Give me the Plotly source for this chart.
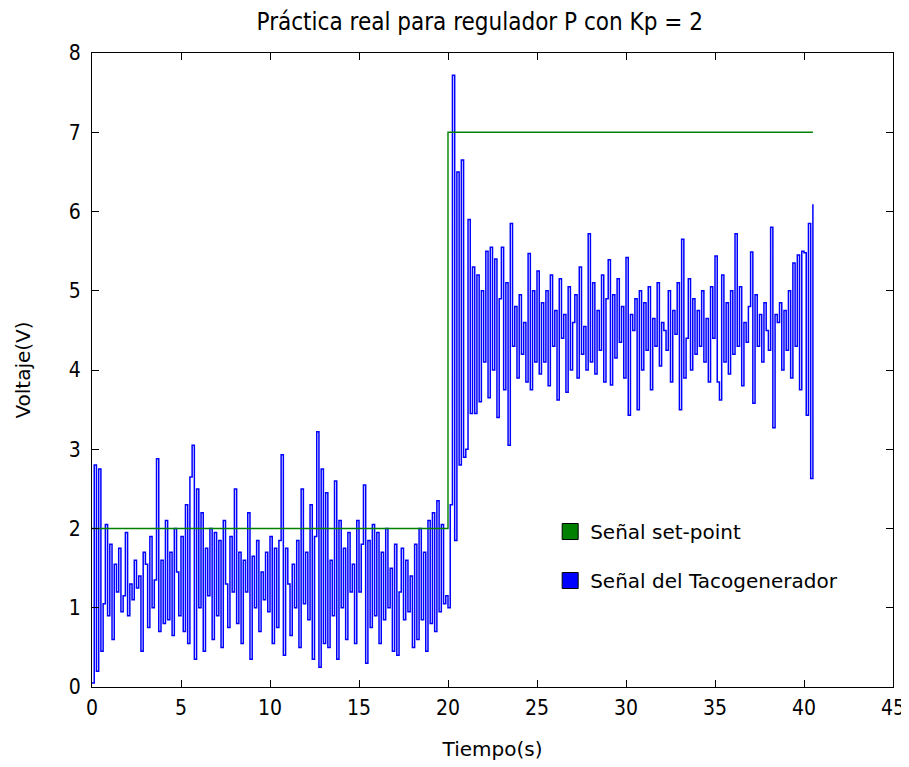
import numpy as np
import plotly.graph_objects as go

TITLE = "Práctica real para regulador P con Kp = 2"
X_LABEL = "Tiempo(s)"
Y_LABEL = "Voltaje(V)"
SETPOINT_NAME = "Señal set-point"
TACHO_NAME = "Señal del Tacogenerador"

# set-point signal (step at t = 20 s)
setpoint_t = [0, 20, 20, 40.5]
setpoint_v = [2, 2, 7, 7]

# tachogenerator signal, sampled every 0.125 s (one row per second)
SAMPLE_PERIOD = 0.125
tacho_v = [
    0.05, 2.8, 0.2, 2.75, 0.45, 1.05, 2.05, 0.9,
    1.8, 0.6, 1.55, 1.2, 1.75, 0.95, 1.15, 1.95,
    0.9, 1.3, 1.1, 1.6, 1.25, 1.4, 0.45, 1.7,
    1.55, 0.75, 1.9, 1.0, 1.35, 2.88, 0.7, 1.6,
    0.8, 2.1, 0.85, 1.7, 0.65, 2.0, 1.45, 0.9,
    1.9, 0.7, 2.3, 0.55, 2.65, 3.05, 0.35, 2.5,
    1.0, 2.2, 0.45, 1.75, 1.15, 2.0, 0.6, 1.95,
    0.9, 1.85, 0.5, 2.1, 1.3, 0.75, 1.9, 1.2,
    2.5, 0.8, 1.7, 0.55, 1.6, 1.2, 2.2, 0.35,
    1.65, 1.0, 1.85, 0.7, 1.45, 1.1, 1.7, 0.95,
    1.9, 0.55, 1.75, 0.75, 1.85, 2.93, 0.4, 1.75,
    1.3, 0.65, 1.55, 1.0, 1.85, 0.5, 2.5, 1.05,
    1.7, 0.85, 2.3, 0.35, 1.9, 3.22, 0.25, 2.75,
    0.55, 2.45, 0.5, 1.6, 0.9, 2.6, 0.35, 2.1,
    1.0, 1.75, 0.6, 1.95, 1.2, 1.55, 0.55, 2.1,
    1.2, 1.8, 2.55, 0.3, 1.85, 0.75, 2.05, 0.9,
    1.95, 0.55, 1.7, 0.85, 2.0, 1.0, 1.5, 0.45,
    1.8, 0.4, 1.2, 1.75, 0.85, 1.6, 0.95, 1.4,
    0.5, 1.8, 0.6, 2.0, 0.85, 1.7, 0.45, 2.1,
    0.8, 2.2, 0.7, 2.35, 0.95, 2.05, 1.05, 1.15,
    1.0, 2.3, 7.72, 1.85, 6.5, 2.8, 6.65, 2.9,
    3.0, 5.9, 3.45, 5.3, 3.45, 5.2, 3.6, 5.0,
    4.1, 5.5, 3.65, 5.55, 4.0, 5.4, 3.4, 4.9,
    5.55, 3.75, 5.1, 3.05, 5.85, 4.3, 4.8, 3.9,
    4.95, 4.2, 4.6, 3.85, 5.47, 3.75, 5.0, 4.1,
    5.25, 3.95, 4.85, 4.1, 5.0, 3.8, 5.2, 4.3,
    4.75, 3.62, 5.15, 4.4, 4.7, 3.72, 5.05, 4.0,
    4.6, 4.95, 3.9, 5.3, 4.2, 4.55, 4.0, 5.72,
    4.1, 5.1, 3.95, 4.75, 4.25, 5.2, 3.85, 4.9,
    5.39, 3.81, 4.95, 4.15, 5.15, 4.35, 4.8, 3.9,
    5.42, 3.43, 4.7, 4.5, 4.9, 3.5, 5.0, 4.0,
    4.85, 4.25, 5.05, 3.75, 4.65, 4.3, 5.1, 4.05,
    4.6, 4.5, 4.25, 5.0, 3.85, 4.75, 4.45, 5.1,
    3.5, 5.65, 3.9, 4.4, 5.15, 4.0, 4.9, 4.2,
    4.75, 4.3, 5.0, 4.1, 4.65, 3.85, 5.05, 4.4,
    5.44, 3.85, 3.62, 5.2, 4.1, 4.85, 3.95, 5.0,
    4.2, 5.72, 4.3, 5.05, 3.8, 4.6, 4.35, 4.8,
    5.49, 3.58, 4.95, 4.3, 4.7, 4.1, 4.85, 4.5,
    4.25, 5.8, 3.27, 4.7, 4.6, 4.85, 4.0, 4.75,
    4.25, 5.0, 3.9, 5.35, 4.3, 5.45, 3.75, 5.5,
    5.48, 3.43, 5.85, 2.63, 6.09,
]
tacho_t = np.arange(len(tacho_v)) * SAMPLE_PERIOD

x_ticks = [0, 5, 10, 15, 20, 25, 30, 35, 40, 45]
y_ticks = [0, 1, 2, 3, 4, 5, 6, 7, 8]

GREEN = "#008000"
BLUE = "#0000ff"
NARROW = "Liberation Sans Narrow, DejaVu Sans Condensed, Liberation Sans"
LABEL_FONT = "DejaVu Sans"

fig = go.Figure()
fig.add_trace(go.Scatter(x=tacho_t, y=tacho_v, mode="lines", line=dict(color=BLUE, width=1.5, shape="hv"),
                         showlegend=False))
fig.add_trace(go.Scatter(x=setpoint_t, y=setpoint_v, mode="lines", line=dict(color=GREEN, width=1.4),
                         showlegend=False))
# legend entries as colour patches
fig.add_trace(go.Scatter(x=[None], y=[None], mode="markers", name=SETPOINT_NAME, legendgroup="a",
                         marker=dict(symbol="square", size=22, color=GREEN, line=dict(color="black", width=1))))
fig.add_trace(go.Scatter(x=[None], y=[None], mode="markers", name=TACHO_NAME, legendgroup="b",
                         marker=dict(symbol="square", size=22, color=BLUE, line=dict(color="black", width=1))))

axis_common = dict(showline=True, linecolor="black", linewidth=1, mirror="ticks", ticks="inside",
                   ticklen=7, tickcolor="black", showgrid=False, zeroline=False,
                   tickfont=dict(family=NARROW, size=21, color="black"))
fig.update_xaxes(range=[0, 45], tickvals=x_ticks, ticklabelstandoff=2,
                 title=dict(text=X_LABEL, font=dict(family=LABEL_FONT, size=20, color="black"), standoff=22),
                 **axis_common)
fig.update_yaxes(range=[0, 8], tickvals=y_ticks, ticklabelstandoff=6,
                 title=dict(text=Y_LABEL, font=dict(family=LABEL_FONT, size=20, color="black"), standoff=32),
                 **axis_common)

fig.update_layout(
    width=909, height=767,
    margin=dict(l=84, r=24, t=45, b=88),
    paper_bgcolor="white", plot_bgcolor="white",
    title=dict(text=TITLE, x=0.519, xanchor="center", y=0.982, yanchor="middle",
               font=dict(family=NARROW, size=24, color="black")),
    legend=dict(x=0.572, y=0.276, xanchor="left", yanchor="top", bgcolor="rgba(0,0,0,0)",
                font=dict(family=LABEL_FONT, size=20, color="black"),
                tracegroupgap=20, traceorder="grouped", itemsizing="trace"),
    font=dict(family=LABEL_FONT, color="black"),
)

fig.write_html("out.html")
